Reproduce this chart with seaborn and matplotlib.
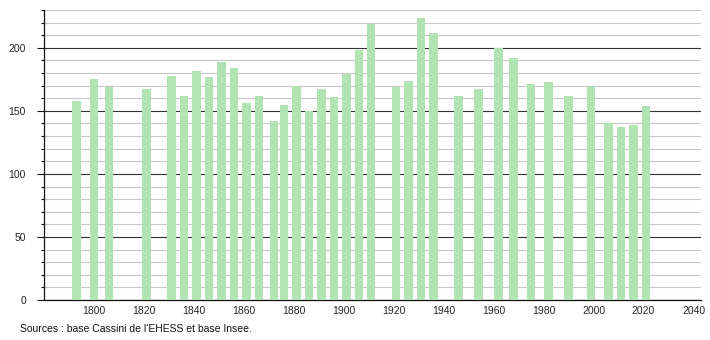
import matplotlib
matplotlib.use("Agg")
import matplotlib.pyplot as plt
import seaborn as sns
import pandas as pd
from matplotlib.ticker import MultipleLocator

years = [1793, 1800, 1806, 1821, 1831, 1836, 1841, 1846, 1851, 1856,
         1861, 1866, 1872, 1876, 1881, 1886, 1891, 1896, 1901, 1906,
         1911, 1921, 1926, 1931, 1936, 1946, 1954, 1962, 1968, 1975,
         1982, 1990, 1999, 2006, 2011, 2016, 2021]
population = [158, 175, 169, 167, 178, 162, 182, 177, 189, 184,
              156, 162, 142, 155, 170, 150, 167, 161, 179, 198,
              219, 169, 174, 224, 212, 162, 167, 200, 192, 171,
              173, 162, 169, 140, 137, 139, 154]
x_ticks = list(range(1800, 2041, 20))
y_ticks = [0, 50, 100, 150, 200]
source_text = "Sources : base Cassini de l'EHESS et base Insee."

sns.set_theme(style="white")
plt.rcParams['font.family'] = ['Liberation Sans', 'DejaVu Sans']

df = pd.DataFrame({"year": years, "pop": population})

fig = plt.figure(figsize=(7.1, 3.4), dpi=100)
ax = fig.add_axes([44/710, 40/340, (701-44)/710, 290/340])

sns.barplot(data=df, x="year", y="pop", native_scale=True, width=0.85,
            color="#b2e3b2", saturation=1, linewidth=0, ax=ax, zorder=3)

ax.set_xlim(1780, 2043)
ax.set_ylim(0, 230)
ax.set_xticks(x_ticks)
ax.set_yticks(y_ticks)
ax.yaxis.set_minor_locator(MultipleLocator(10))
ax.grid(which="minor", axis="y", color="#c8c8c8", linewidth=0.8, zorder=0)
ax.grid(which="major", axis="y", color="#333333", linewidth=0.8, zorder=1)
ax.set_axisbelow(True)
for s in ["top", "right"]:
    ax.spines[s].set_visible(False)
ax.spines["left"].set_color("#111111")
ax.spines["bottom"].set_color("#111111")
ax.spines["left"].set_linewidth(0.9)
ax.spines["bottom"].set_linewidth(0.9)
ax.tick_params(axis="y", which="major", length=5, width=0.8, color="#111111",
               labelsize=7.5, pad=8, left=True)
ax.tick_params(axis="y", which="minor", length=2.5, width=0.8, color="#111111", left=True)
ax.tick_params(axis="x", which="both", length=0, labelsize=7.5, pad=4)
ax.set_xlabel("")
ax.set_ylabel("")

fig.text(20/710, 1 - 329/340, source_text, fontsize=7.5, va="center", ha="left",
         color="#111111")

fig.savefig("out.png", dpi=100)
